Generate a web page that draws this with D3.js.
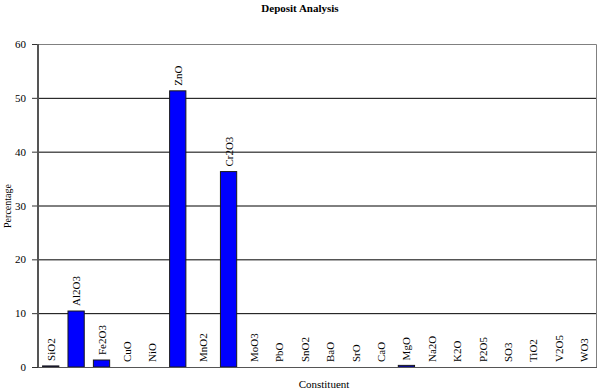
<!DOCTYPE html>
<html lang="en">
<head>
<meta charset="UTF-8">
<title>Deposit Analysis</title>
<script src="https://cdnjs.cloudflare.com/ajax/libs/d3/7.8.5/d3.min.js"></script>
<style>
    body { margin: 0; background: #fff; }
    svg { display: block; }
    svg text { font-family: "Liberation Serif", "DejaVu Serif", serif; fill: #000; }
</style>
</head>
<body>
<svg id="chart" width="599" height="391"></svg>
<script>
// chart data
const categories = ["SiO2", "Al2O3", "Fe2O3", "CuO", "NiO", "ZnO", "MnO2", "Cr2O3", "MoO3", "PbO", "SnO2",
    "BaO", "SrO", "CaO", "MgO", "Na2O", "K2O", "P2O5", "SO3", "TiO2", "V2O5", "WO3"];
const percentages = [0.2, 10.4, 1.3, 0, 0, 51.3, 0, 36.3, 0, 0, 0,
    0, 0, 0, 0.3, 0, 0, 0, 0, 0, 0, 0];
const yTicks = [0, 10, 20, 30, 40, 50, 60];

const svg = d3.select("#chart");
const margin = { top: 44, right: 2, bottom: 24, left: 38 };
const W = 599, H = 391;
const innerW = W - margin.left - margin.right;
const innerH = H - margin.top - margin.bottom;

const x = d3.scaleBand().domain(categories).range([0, innerW]).paddingInner(0.36).paddingOuter(0.18);
const y = d3.scaleLinear().domain([0, 60]).range([innerH, 0]);

const g = svg.append("g").attr("transform", `translate(${margin.left},${margin.top})`);

// gridlines
g.selectAll(".grid").data(yTicks.filter(t => t > 0 && t < 60)).enter().append("line")
    .attr("x1", 0).attr("x2", innerW)
    .attr("y1", d => y(d) + 0.5).attr("y2", d => y(d) + 0.5)
    .attr("stroke", "#000").attr("stroke-width", 1);

// plot border (top + right)
g.append("path")
    .attr("d", `M0,0.5H${innerW - 0.5}V${innerH}`)
    .attr("fill", "none").attr("stroke", "#808080").attr("stroke-width", 1);

// bars
g.selectAll(".bar").data(categories).enter().append("rect")
    .attr("x", d => x(d))
    .attr("y", (d, i) => y(percentages[i]))
    .attr("width", x.bandwidth())
    .attr("height", (d, i) => innerH - y(percentages[i]))
    .attr("fill", "#0000ff")
    .attr("stroke", "#1a1a1a").attr("stroke-width", 1);

// bar labels (rotated)
g.selectAll(".lbl").data(categories).enter().append("text")
    .attr("transform", (d, i) => `translate(${x(d) + x.bandwidth() / 2 + 4},${y(percentages[i]) - 5}) rotate(-90)`)
    .attr("font-size", 11)
    .attr("text-anchor", "start")
    .text(d => d);

// y axis
const yAxis = d3.axisLeft(y).tickValues(yTicks).tickSize(6).tickPadding(6);
const ya = g.append("g").call(yAxis);
ya.select(".domain").remove();
ya.selectAll(".tick line").attr("stroke", "#333");
ya.selectAll("text").attr("font-size", 11).attr("font-family", null);
g.append("line").attr("x1", 0).attr("x2", 0).attr("y1", 0).attr("y2", innerH)
    .attr("stroke", "#555").attr("stroke-width", 2);

// x axis base
g.append("line").attr("x1", 0).attr("x2", innerW).attr("y1", innerH + 0.5).attr("y2", innerH + 0.5)
    .attr("stroke", "#555").attr("stroke-width", 1);

// titles
svg.append("text").attr("x", 300).attr("y", 12).attr("text-anchor", "middle")
    .attr("font-size", 11).attr("font-weight", "bold").text("Deposit Analysis");
svg.append("text").attr("x", 324).attr("y", 388).attr("text-anchor", "middle")
    .attr("font-size", 11).text("Constituent");
svg.append("text").attr("transform", "translate(11,206) rotate(-90)").attr("text-anchor", "middle")
    .attr("font-size", 10).text("Percentage");
</script>
</body>
</html>
